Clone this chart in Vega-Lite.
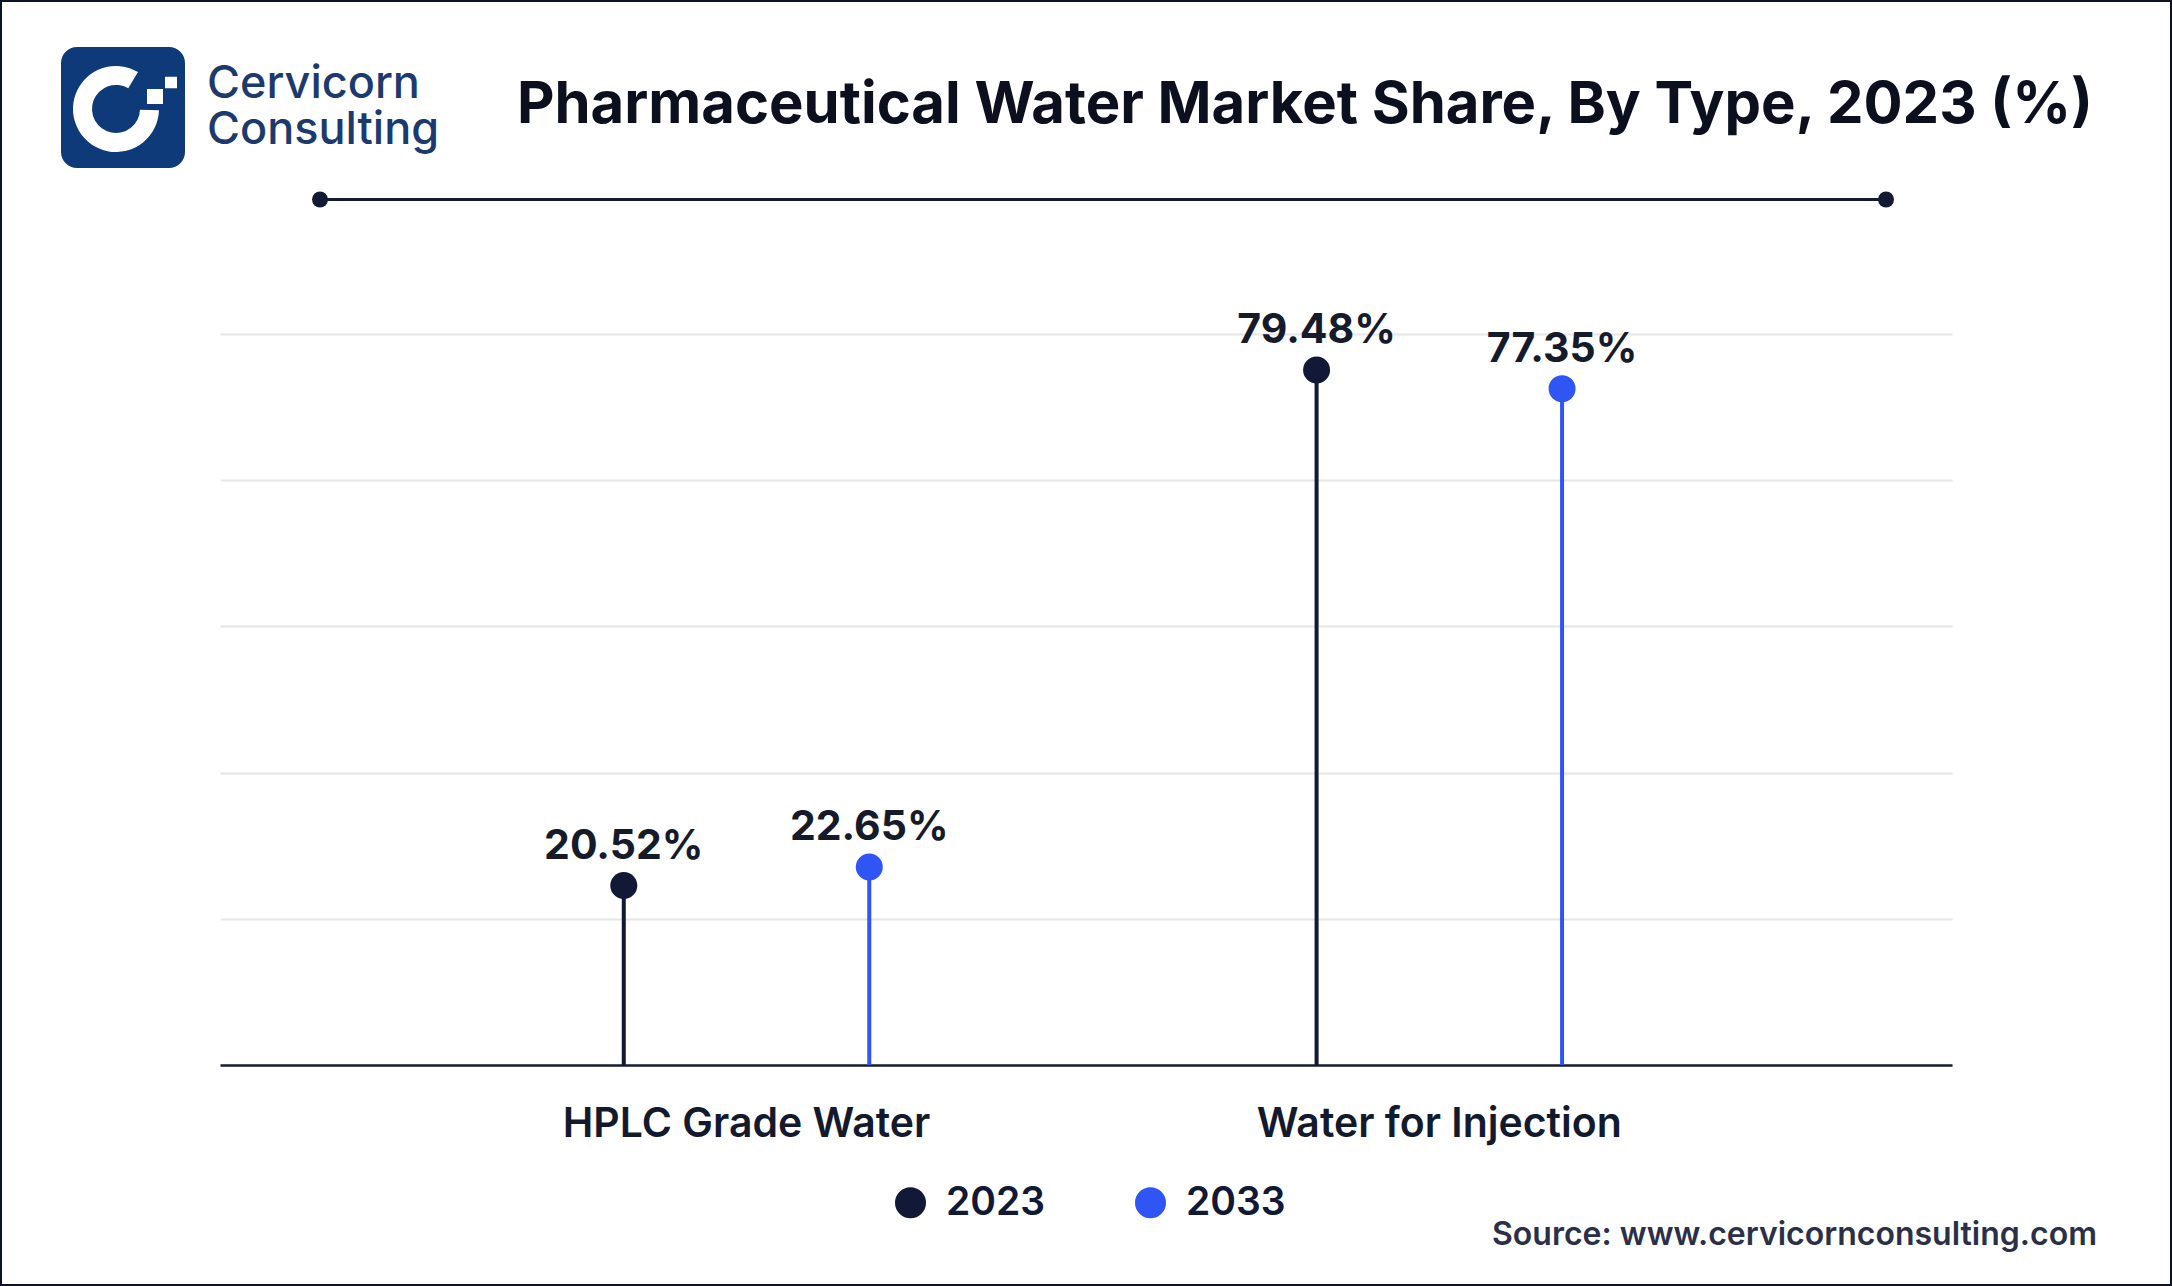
{
  "$schema": "https://vega.github.io/schema/vega-lite/v6.json",
  "width": 1732,
  "height": 731,
  "autosize": {"type": "none"},
  "padding": {"left": 220, "top": 334, "right": 220, "bottom": 221},
  "background": "white",
  "config": {"view": {"stroke": null}, "font": "Inter"},
  "datasets": {
    "share": [
      {"type": "HPLC Grade Water", "year": "2023", "value": 20.52, "label": "20.52%"},
      {"type": "HPLC Grade Water", "year": "2033", "value": 22.65, "label": "22.65%"},
      {"type": "Water for Injection", "year": "2023", "value": 79.48, "label": "79.48%"},
      {"type": "Water for Injection", "year": "2033", "value": 77.35, "label": "77.35%"}
    ]
  },
  "layer": [
    {
      "data": {"values": [{}]},
      "mark": {"type": "rect", "fill": null, "stroke": "#0d1326", "strokeWidth": 4},
      "encoding": {
        "x": {"datum": -12.702, "type": "quantitative", "scale": {"domain": [0, 100], "nice": false, "zero": false}, "axis": null},
        "x2": {"datum": 112.702},
        "y": {"datum": 145.691, "type": "quantitative", "scale": {"domain": [0, 100], "nice": false, "zero": false}, "axis": null},
        "y2": {"datum": -30.233}
      }
    },
    {
      "data": {"values": [{}]},
      "mark": {"type": "text", "text": "Pharmaceutical Water Market Share, By Type, 2023 (%)", "align": "center", "baseline": "alphabetic", "fontSize": 58, "fontWeight": "bold", "font": "Inter", "color": "#0b0f1e"},
      "encoding": {
        "x": {"datum": 62.64, "type": "quantitative", "scale": {"domain": [0, 100], "nice": false, "zero": false}, "axis": null},
        "y": {"datum": 128.86, "type": "quantitative", "scale": {"domain": [0, 100], "nice": false, "zero": false}, "axis": null}
      }
    },
    {
      "data": {"values": [{}]},
      "mark": {"type": "rect", "fill": "#0f3a7a", "cornerRadius": 16},
      "encoding": {
        "x": {"datum": -9.18, "type": "quantitative", "scale": {"domain": [0, 100], "nice": false, "zero": false}, "axis": null},
        "x2": {"datum": -2.021},
        "y": {"datum": 139.26, "type": "quantitative", "scale": {"domain": [0, 100], "nice": false, "zero": false}, "axis": null},
        "y2": {"datum": 122.71}
      }
    },
    {
      "data": {"values": [{}]},
      "mark": {"type": "arc", "theta": 1.6, "theta2": 6.82, "radius": 43, "radius2": 24, "fill": "white"},
      "encoding": {
        "x": {"datum": -6.005, "type": "quantitative", "scale": {"domain": [0, 100], "nice": false, "zero": false}, "axis": null},
        "y": {"datum": 130.78, "type": "quantitative", "scale": {"domain": [0, 100], "nice": false, "zero": false}, "axis": null}
      }
    },
    {
      "data": {"values": [{}]},
      "mark": {"type": "rect", "fill": "white"},
      "encoding": {
        "x": {"datum": -3.176, "type": "quantitative", "scale": {"domain": [0, 100], "nice": false, "zero": false}, "axis": null},
        "x2": {"datum": -2.483},
        "y": {"datum": 135.2, "type": "quantitative", "scale": {"domain": [0, 100], "nice": false, "zero": false}, "axis": null},
        "y2": {"datum": 133.61}
      }
    },
    {
      "data": {"values": [{}]},
      "mark": {"type": "rect", "fill": "white"},
      "encoding": {
        "x": {"datum": -4.215, "type": "quantitative", "scale": {"domain": [0, 100], "nice": false, "zero": false}, "axis": null},
        "x2": {"datum": -3.291},
        "y": {"datum": 133.52, "type": "quantitative", "scale": {"domain": [0, 100], "nice": false, "zero": false}, "axis": null},
        "y2": {"datum": 131.46}
      }
    },
    {
      "data": {"values": [{}]},
      "mark": {"type": "text", "text": ["Cervicorn", "Consulting"], "lineHeight": 46, "align": "left", "baseline": "alphabetic", "fontSize": 45, "fontWeight": 500, "font": "Inter", "color": "#1c3a6e"},
      "encoding": {
        "x": {"datum": -0.751, "type": "quantitative", "scale": {"domain": [0, 100], "nice": false, "zero": false}, "axis": null},
        "y": {"datum": 132.28, "type": "quantitative", "scale": {"domain": [0, 100], "nice": false, "zero": false}, "axis": null}
      }
    },
    {
      "data": {"values": [{}]},
      "mark": {"type": "rule", "stroke": "#141a33", "strokeWidth": 3},
      "encoding": {
        "x": {"datum": 5.774, "type": "quantitative", "scale": {"domain": [0, 100], "nice": false, "zero": false}, "axis": null},
        "x2": {"datum": 96.19},
        "y": {"datum": 118.4, "type": "quantitative", "scale": {"domain": [0, 100], "nice": false, "zero": false}, "axis": null}
      }
    },
    {
      "data": {"values": [{}]},
      "mark": {"type": "point", "filled": true, "shape": "circle", "size": 256, "color": "#141a33", "opacity": 1},
      "encoding": {
        "x": {"datum": 5.774, "type": "quantitative", "scale": {"domain": [0, 100], "nice": false, "zero": false}, "axis": null},
        "y": {"datum": 118.4, "type": "quantitative", "scale": {"domain": [0, 100], "nice": false, "zero": false}, "axis": null}
      }
    },
    {
      "data": {"values": [{}]},
      "mark": {"type": "point", "filled": true, "shape": "circle", "size": 256, "color": "#141a33", "opacity": 1},
      "encoding": {
        "x": {"datum": 96.19, "type": "quantitative", "scale": {"domain": [0, 100], "nice": false, "zero": false}, "axis": null},
        "y": {"datum": 118.4, "type": "quantitative", "scale": {"domain": [0, 100], "nice": false, "zero": false}, "axis": null}
      }
    },
    {
      "data": {"values": [{}]},
      "mark": {"type": "text", "text": "Source: www.cervicornconsulting.com", "align": "right", "baseline": "alphabetic", "fontSize": 32, "fontWeight": 600, "font": "Inter", "color": "#2b2f48"},
      "encoding": {
        "x": {"datum": 108.37, "type": "quantitative", "scale": {"domain": [0, 100], "nice": false, "zero": false}, "axis": null},
        "y": {"datum": -24.62, "type": "quantitative", "scale": {"domain": [0, 100], "nice": false, "zero": false}, "axis": null}
      }
    },
    {
      "data": {"name": "share"},
      "encoding": {
        "x": {
          "field": "type",
          "type": "nominal",
          "sort": ["HPLC Grade Water", "Water for Injection"],
          "scale": {"type": "band", "paddingOuter": 0.25, "paddingInner": 0, "align": 0.52},
          "axis": {
            "title": null,
            "labelAngle": 0,
            "labelLimit": 0,
            "labelFontSize": 41,
            "labelFont": "Inter",
            "labelFontWeight": 600,
            "labelColor": "#141a2e",
            "labelPadding": 39,
            "ticks": false,
            "domainColor": "#1a1f30",
            "domainWidth": 2.5,
            "grid": false
          }
        },
        "xOffset": {"field": "year", "type": "nominal", "scale": {"paddingOuter": 0.411, "paddingInner": 0}},
        "y": {
          "field": "value",
          "type": "quantitative",
          "scale": {"domain": [0, 83.6], "nice": false, "zero": true},
          "axis": {
            "title": null,
            "values": [0, 16.72, 33.44, 50.16, 66.88, 83.6],
            "labels": false,
            "ticks": false,
            "domain": false,
            "grid": true,
            "gridColor": "#e6e6e6",
            "gridWidth": 2
          }
        }
      },
      "layer": [
        {
          "mark": {"type": "point", "filled": true, "shape": "circle", "size": 729, "opacity": 1},
          "encoding": {
            "color": {
              "field": "year",
              "type": "nominal",
              "scale": {"domain": ["2023", "2033"], "range": ["#111936", "#2f55f4"]},
              "legend": {
                "title": null,
                "orient": "none",
                "direction": "horizontal",
                "legendX": 671,
                "legendY": 849,
                "symbolType": "circle",
                "symbolSize": 961,
                "symbolStrokeWidth": 0,
                "symbolOpacity": 1,
                "labelFontSize": 39,
                "labelFont": "Inter",
                "labelFontWeight": 600,
                "labelColor": "#111936",
                "labelOffset": 16,
                "columnPadding": 85
              }
            }
          }
        },
        {
          "mark": {"type": "rule", "strokeWidth": 4},
          "encoding": {
            "y2": {"datum": 0},
            "color": {"field": "year", "type": "nominal", "scale": {"domain": ["2023", "2033"], "range": ["#111936", "#2f55f4"]}}
          }
        },
        {
          "mark": {"type": "text", "dy": -27, "baseline": "alphabetic", "fontSize": 41, "fontWeight": "bold", "font": "Inter", "color": "#161b2c"},
          "encoding": {"text": {"field": "label"}}
        }
      ]
    }
  ],
  "resolve": {"scale": {"x": "independent", "y": "independent"}}
}
